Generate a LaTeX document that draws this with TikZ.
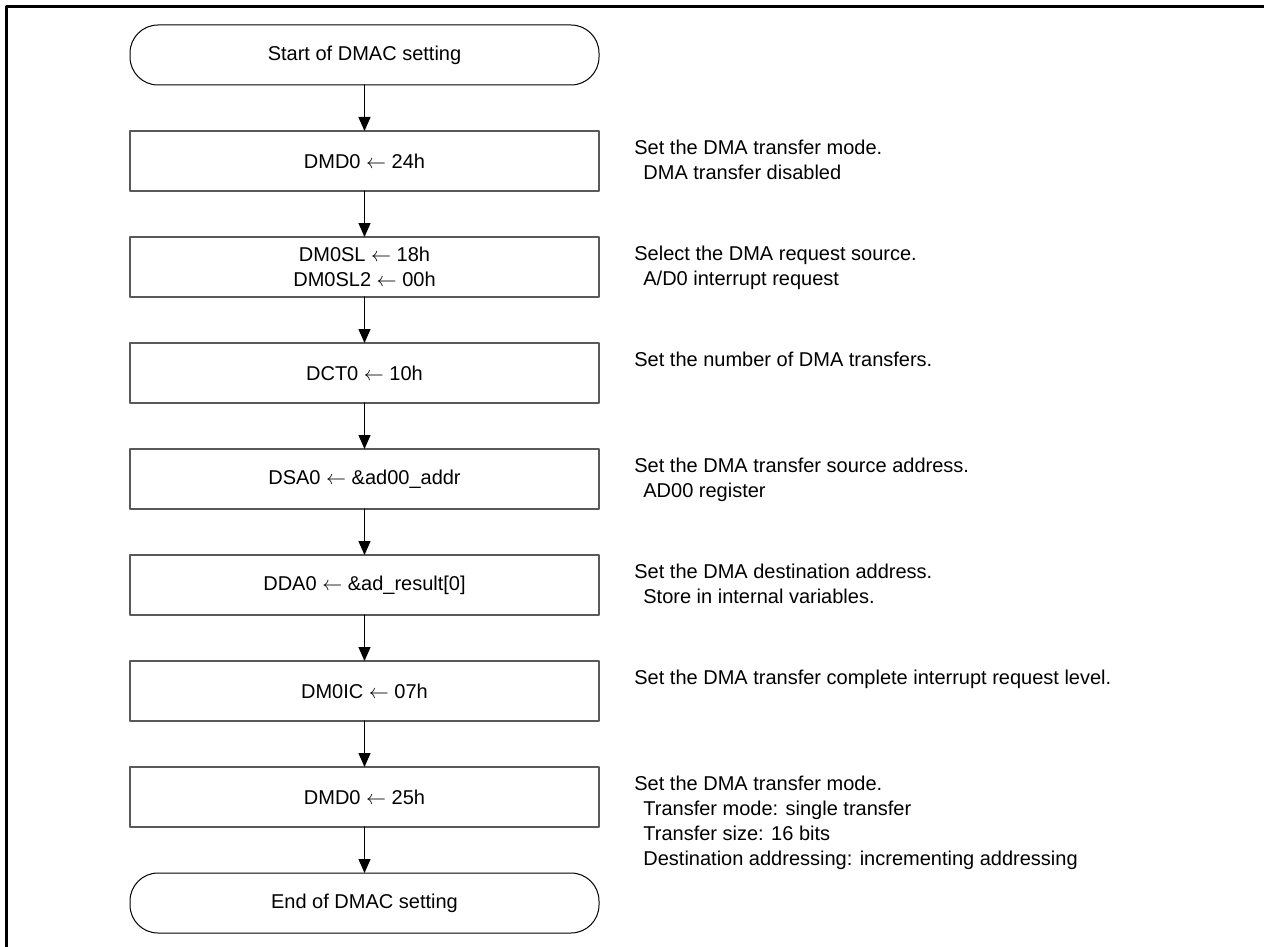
\documentclass[tikz,border=0pt]{standalone}
\usepackage{fontspec}
\setmainfont{Liberation Sans}
\usetikzlibrary{arrows.meta,positioning}

\begin{document}
\begin{tikzpicture}[line cap=round,line join=round,x=0.5pt,y=-0.5pt,
  >={Triangle[length=7pt,width=6pt]},
  every node/.style={font=\fontsize{10}{12.5}\selectfont},
  procbox/.style={draw=black!65,line width=0.8pt,minimum width=234.5pt,minimum height=30pt,align=center,inner sep=0pt,outer sep=0pt},
  termbox/.style={draw=black,line width=0.5pt,rounded corners=14pt,minimum width=234.5pt,minimum height=30pt,inner sep=0pt,outer sep=0pt},
  note/.style={anchor=north west,align=left,inner sep=0pt},
  flow/.style={->,line width=0.6pt}]
\useasboundingbox (0,0) rectangle (1264,947);
% frame
\draw[line width=1.75pt,line cap=butt] (6.5,947) -- (6.5,6.5) -- (1264,6.5);
% flow chart
\node[termbox] (start) at (364.5,55) {Start of DMAC setting};
\node[procbox,below=23pt of start] (b1) {DMD0 $\leftarrow$ 24h};
\node[procbox,below=23pt of b1] (b2) {DM0SL $\leftarrow$ 18h\\DM0SL2 $\leftarrow$ 00h};
\node[procbox,below=23pt of b2] (b3) {DCT0 $\leftarrow$ 10h};
\node[procbox,below=23pt of b3] (b4) {DSA0 $\leftarrow$ \&ad00\_addr};
\node[procbox,below=23pt of b4] (b5) {DDA0 $\leftarrow$ \&ad\_result[0]};
\node[procbox,below=23pt of b5] (b6) {DM0IC $\leftarrow$ 07h};
\node[procbox,below=23pt of b6] (b7) {DMD0 $\leftarrow$ 25h};
\node[termbox,below=23pt of b7] (end) {End of DMAC setting};
\draw[flow] (start) -- (b1);
\draw[flow] (b1) -- (b2);
\draw[flow] (b2) -- (b3);
\draw[flow] (b3) -- (b4);
\draw[flow] (b4) -- (b5);
\draw[flow] (b5) -- (b6);
\draw[flow] (b6) -- (b7);
\draw[flow] (b7) -- (end);
% comments
\node[note] (n1) at ([xshift=17.5pt,yshift=-4.5pt]b1.north east) {Set the DMA transfer mode.\\\hspace*{4.5pt}DMA transfer disabled};
\node[note] (n2) at ([xshift=17.5pt,yshift=-4.5pt]b2.north east) {Select the DMA request source.\\\hspace*{4.5pt}A/D0 interrupt request};
\node[note] (n3) at ([xshift=17.5pt,yshift=-4.5pt]b3.north east) {Set the number of DMA transfers.};
\node[note] (n4) at ([xshift=17.5pt,yshift=-4.5pt]b4.north east) {Set the DMA transfer source address.\\\hspace*{4.5pt}AD00 register};
\node[note] (n5) at ([xshift=17.5pt,yshift=-4.5pt]b5.north east) {Set the DMA destination address.\\\hspace*{4.5pt}Store in internal variables.};
\node[note] (n6) at ([xshift=17.5pt,yshift=-4.5pt]b6.north east) {Set the DMA transfer complete interrupt request level.};
\node[note] (n7) at ([xshift=17.5pt,yshift=-4.5pt]b7.north east) {Set the DMA transfer mode.\\\hspace*{4.5pt}Transfer mode: single transfer\\\hspace*{4.5pt}Transfer size: 16 bits\\\hspace*{4.5pt}Destination addressing: incrementing addressing};
\end{tikzpicture}
\end{document}
